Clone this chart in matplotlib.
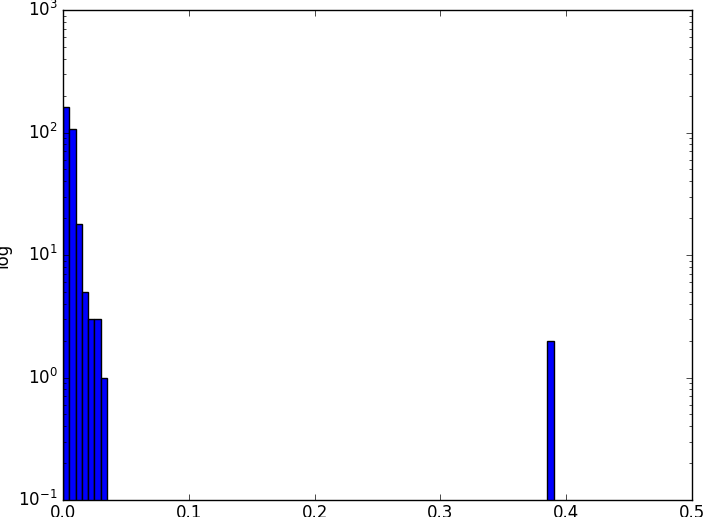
import matplotlib
matplotlib.use('Agg')
import matplotlib.pyplot as plt

plt.style.use('classic')

# histogram bins (left edges) and counts
bin_left = [0.000, 0.005, 0.010, 0.015, 0.020, 0.025, 0.030, 0.385]
counts = [160, 107, 18, 5, 3, 3, 1, 2]
bin_width = 0.005

fig = plt.figure(figsize=(7.03, 5.17), dpi=100)
ax = fig.add_axes([63 / 703, 17 / 517, 629 / 703, 490 / 517])

ax.bar(bin_left, counts, width=bin_width, align='edge', color='b',
       edgecolor='k', log=True)

ax.set_yscale('log')
ax.set_ylim(0.1, 1000)
ax.set_xlim(0, 0.5)
ax.set_ylabel('log')
ax.tick_params(axis='x', which='major', pad=3)

fig.savefig('out.png', dpi=100)
